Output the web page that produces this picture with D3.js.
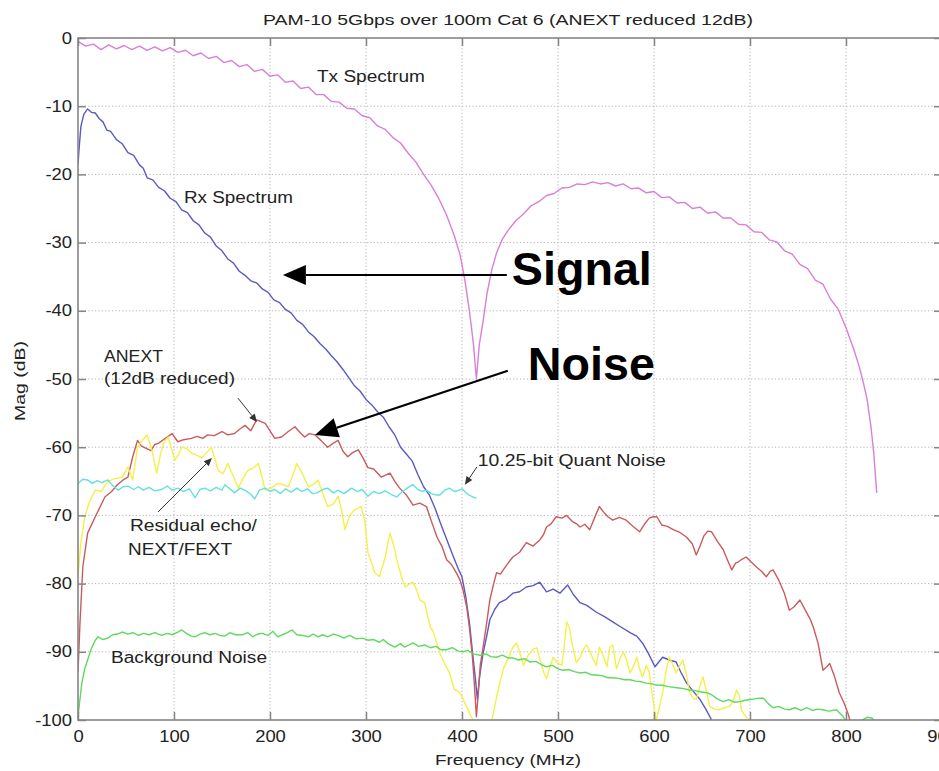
<!DOCTYPE html>
<html><head><meta charset="utf-8">
<script src="https://cdn.jsdelivr.net/npm/d3@7"></script>
<style>body{margin:0;background:#fff}svg{display:block;font-family:"Liberation Sans",Arial,sans-serif}</style>
</head><body><svg id="c" width="939" height="771"></svg>
<script>
// ---------- data ----------
const xTicks = [0,100,200,300,400,500,600,700,800,900];
const yTicks = [0,-10,-20,-30,-40,-50,-60,-70,-80,-90,-100];

const txFreq = [0,8,16,24,32,40,48,56,64,72,80,88,96,104,112,120,128,136,144,152,160,168,176,184,192,200,208,216,224,232,240,248,256,264,272,280,288,296,304,312,320,328,336,344,352,360,368,376,384,392,398,403,408,412,415,418,422,426,431,436,442,448,456,464,472,480,488,496,504,512,520,528,536,544,552,560,568,576,584,592,600,608,616,624,632,640,648,656,664,672,680,688,696,704,712,720,728,736,744,752,760,768,776,784,792,800,808,814,818,822,826,829,832];
const txMag = [-0.5,-1.2,-0.9,-1.7,-1.0,-1.6,-1.1,-1.7,-1.2,-1.8,-1.3,-1.9,-1.4,-2.1,-1.8,-2.6,-2.2,-3.0,-2.7,-3.6,-3.3,-4.2,-3.9,-4.9,-4.6,-5.6,-5.4,-6.5,-6.3,-7.4,-7.2,-8.3,-8.3,-9.3,-9.4,-10.3,-10.4,-11.4,-11.7,-12.9,-13.4,-14.6,-15.4,-16.9,-18.2,-20.0,-21.6,-23.6,-26.0,-29.0,-31.8,-35.5,-40.3,-45,-50,-45,-41.5,-37.5,-34,-31.5,-29.5,-28.2,-26.8,-25.8,-24.6,-24.0,-23.1,-22.8,-22.0,-21.9,-21.4,-21.5,-21.1,-21.4,-21.2,-21.7,-21.4,-22.1,-22.0,-22.7,-22.5,-23.4,-23.3,-24.2,-24.1,-25.0,-24.8,-25.7,-25.5,-26.4,-26.4,-27.3,-27.4,-28.4,-28.5,-29.6,-29.9,-31.2,-31.7,-33.2,-33.8,-35.5,-36.1,-38.3,-39.8,-42.5,-45.6,-48.3,-50.5,-53,-57,-61,-66.7];

const rxFreq = [0,1,3,6,10,14,18,22,26,30,34,40,46,52,58,64,68,72,78,84,90,96,102,108,114,120,126,132,138,144,150,156,162,168,174,180,186,192,198,204,210,216,222,228,234,240,246,252,258,264,270,276,282,288,294,300,306,312,318,324,330,336,342,348,354,360,366,372,378,384,390,396,400,404,408,411,414,416,418,420,422,426,429,434,439,446,453,460,467,474,481,488,495,502,510,516,523,530,540,548,557,566,575,582,588,594,601,609,616,623,628,634,641,648,654,660,664];
const rxMag = [-18.6,-16.5,-13,-11.2,-10.4,-10.9,-11.0,-11.8,-12.3,-13.5,-13.7,-14.9,-15.5,-16.8,-17.2,-18.6,-19.1,-20.5,-20.8,-21.9,-22.4,-23.5,-24.0,-25.2,-25.6,-26.8,-27.4,-28.6,-29.2,-30.5,-31.2,-32.4,-33.0,-34.2,-34.8,-35.6,-35.9,-36.8,-37.3,-38.4,-38.8,-39.8,-40.3,-41.4,-42.0,-43.1,-43.8,-44.8,-45.6,-46.6,-47.5,-48.6,-49.8,-51.0,-51.8,-53.0,-53.8,-54.8,-55.6,-57.0,-58.2,-60.0,-61.0,-62.0,-64.0,-65.8,-67.0,-69.0,-71.3,-73.5,-75.7,-77.8,-79.0,-82.0,-86.0,-90.2,-94,-97,-94,-92,-90.2,-87.5,-85.3,-83.8,-82.8,-82.3,-81.4,-81.2,-80.5,-80.3,-79.8,-81.2,-80.8,-81.4,-80.2,-81.6,-82.8,-83.2,-84.2,-84.8,-85.6,-86.4,-87.2,-87.7,-88.7,-90.2,-92.2,-90.8,-91.2,-91.5,-93.0,-94.6,-95.8,-97.0,-98.4,-100.0,-101];

const anextFreq = [0,2,5,10,18,28,35,41,47,52,57,62,66,70,76,80,84,90,95,98,104,110,118,124,130,135,142,150,156,163,168,174,180,186,190,195,200,205,212,219,226,231,236,241,247,253,260,266,271,276,281,286,292,297,302,308,316,322,325,330,335,342,349,356,363,368,374,379,384,389,394,398,401,405,408,411,413,415,417,419,422,426,429,433,436,440,443,448,453,460,467,474,481,485,488,493,498,504,509,515,519,523,528,533,538,543,548,552,557,564,571,578,585,590,595,599,603,608,614,620,627,634,640,644,648,652,656,660,666,672,677,681,685,688,692,696,701,707,712,717,721,724,730,736,741,746,752,758,763,766,771,776,780,783,788,793,798,802,806];
const anextMag = [-93,-86,-77.6,-72.6,-70.2,-67.3,-66.5,-65.5,-64.8,-64.4,-61.4,-59.0,-59.8,-60.1,-60.5,-59.6,-59.4,-58.8,-58.3,-58.0,-59.2,-58.9,-58.7,-58.4,-58.7,-58.2,-58.3,-57.7,-58.2,-58.0,-57.4,-56.8,-57.6,-56.0,-56.2,-56.5,-57.6,-58.7,-58.5,-57.7,-57.0,-57.8,-58.5,-58.0,-58.2,-59.0,-60.0,-59.4,-59.0,-60.6,-61.4,-60.8,-60.4,-61.6,-63.0,-63.2,-64.4,-64.0,-63.8,-65.0,-66.0,-67.0,-68.5,-68.2,-68.7,-70.8,-73.2,-74.5,-76.5,-77.2,-78.4,-79.5,-80.9,-83.5,-86.8,-91,-95,-99.5,-96,-92,-89.3,-85.5,-82.4,-80,-78.4,-78.6,-78.0,-77.0,-76.1,-75.4,-74.0,-74.5,-73.6,-72.8,-71.7,-71.2,-70.2,-70.4,-70.0,-70.9,-71.2,-71.7,-71.3,-72.1,-70.4,-68.7,-69.6,-70.2,-70.7,-70.3,-70.7,-71.6,-72.4,-71.3,-70.4,-70.2,-70.2,-71.4,-71.6,-72.1,-72.5,-73.2,-74.2,-75.8,-74.5,-73.0,-72.3,-72.4,-73.8,-75.0,-76.7,-78.0,-77.0,-76.8,-76.4,-76.1,-76.8,-77.6,-78.2,-79.0,-78.2,-78.0,-79.5,-81.5,-83.9,-83.4,-82.4,-84.0,-85.3,-86.4,-88.8,-92.7,-92.2,-91.7,-93.6,-96.0,-97.5,-99.0,-101];

const echoFreq = [0,3,7,12,18,24,31,38,46,52,57,62,67,72,77,82,86,89,94,98,101,105,108,113,119,124,129,134,139,146,151,156,161,167,172,177,183,188,191,195,201,208,214,219,224,228,234,240,245,250,255,260,266,271,275,278,283,288,295,299,302,306,309,314,320,325,329,333,338,341,346,349,353,356,361,367,370,377,381,387,392,398,403,408,413,420,429,432,437,443,448,453,457,461,464,469,474,478,481,485,488,492,495,499,504,507,509,512,514,519,523,527,530,534,537,540,543,547,551,554,557,561,564,568,571,575,579,582,585,588,592,595,597,600,602,605,609,613,616,620,623,627,630,634,637,641,644,648,651,655,658,663,668,674,679,683,686,689,691,694,696,700,703];
const echoMag = [-79,-74,-70.2,-68,-66.3,-66.5,-65.0,-64.6,-64.4,-62.9,-64.8,-60.0,-59.0,-58.2,-60.4,-63.8,-61.0,-59.4,-58.5,-60.5,-61.9,-61.0,-60.0,-60.2,-60.9,-61.2,-61.6,-60.8,-60.0,-63.4,-63.9,-62.4,-64.0,-66.0,-64.5,-63.4,-63.0,-62.4,-64.0,-66.3,-66.0,-65.3,-65.5,-65.8,-64.0,-62.4,-64.0,-65.8,-65.5,-64.8,-66.8,-68.7,-68.3,-67.2,-69.5,-72.1,-70.0,-69.2,-68.7,-71.0,-75.5,-77.0,-78.4,-79.0,-76.1,-72.6,-74.5,-77.0,-79.5,-80.5,-80.0,-79.8,-81.0,-82.4,-82.8,-86.4,-87.0,-90.2,-91.5,-93.1,-95.5,-96.0,-97.5,-99.0,-100.5,-102,-101,-99.5,-96.0,-92.5,-91,-89.3,-88.7,-90.5,-92.0,-90.5,-89.6,-89.4,-91.0,-93.0,-93.9,-92.0,-90.8,-91.6,-92.0,-88.5,-85.6,-86.5,-88.3,-91.6,-90.8,-89.5,-89.0,-90.2,-91.2,-92.0,-89.3,-90.5,-92.2,-89.3,-89.0,-92.5,-91.2,-90.0,-91.0,-93.1,-92.0,-90.8,-92.5,-93.7,-92.0,-93.0,-95.2,-98.0,-100.2,-98.5,-96.0,-92.5,-90.8,-92.0,-93.1,-92.0,-91.2,-93.5,-96.0,-96.8,-97.0,-95.0,-93.7,-96.0,-98.0,-98.4,-98.5,-98.2,-98.0,-97.0,-95.6,-96.5,-98.5,-99.2,-99.5,-100.3,-101];

const quantFreq = [0,5,10,15,20,25,31,36,42,47,52,58,63,68,74,80,87,93,98,104,110,116,122,127,132,138,144,150,153,158,163,169,175,180,184,189,195,200,205,211,216,222,228,233,239,244,249,255,260,266,271,277,285,291,296,302,308,314,320,326,332,338,344,349,354,359,363,368,373,377,382,387,392,397,400,405,410,415];
const quantMag = [-65.3,-64.7,-64.8,-65.3,-64.9,-65.2,-64.8,-65.6,-66.3,-65.8,-65.7,-66.2,-65.8,-66.3,-65.9,-66.4,-66.2,-65.7,-66.3,-66.0,-66.5,-66.1,-67.4,-66.2,-66.0,-66.4,-65.9,-66.3,-65.5,-66.1,-66.7,-66.0,-66.4,-66.9,-67.6,-66.3,-66.0,-66.5,-66.2,-66.8,-66.1,-66.6,-66.0,-66.5,-66.1,-66.8,-66.7,-66.2,-66.0,-66.7,-66.3,-66.8,-66.0,-66.5,-66.2,-67.2,-66.5,-66.8,-66.4,-66.9,-67.3,-66.5,-65.9,-65.5,-66.2,-66.5,-66.3,-66.8,-67.0,-67.0,-66.3,-66.0,-66.5,-66.3,-66.1,-66.8,-67.2,-67.5];

const bgFreq = [0,2,4,7,10,14,18,21,26,31,36,41,46,52,57,63,68,74,80,87,93,98,104,108,113,118,122,127,132,137,143,148,153,158,164,171,177,182,187,192,198,203,208,213,218,223,228,234,240,245,250,255,260,266,271,277,283,290,296,302,308,314,318,323,330,336,340,345,349,355,361,367,373,378,384,390,396,401,406,412,419,425,430,436,442,448,453,459,465,471,477,483,488,494,500,505,511,517,523,529,535,540,546,552,557,563,569,575,581,587,592,598,603,609,615,620,626,631,637,643,649,655,660,666,672,678,684,690,695,700,705,710,714,719,724,730,736,741,747,753,759,765,770,776,782,790,797,800,806,812,818,822,827,830,834];
const bgMag = [-99.5,-97,-94.6,-92.5,-91.2,-89.5,-88.3,-87.8,-88.2,-88.0,-87.5,-87.4,-87.1,-87.4,-87.2,-87.6,-87.3,-87.5,-87.2,-87.6,-87.3,-87.5,-87.1,-86.8,-87.3,-87.7,-87.8,-87.4,-87.2,-87.5,-87.3,-87.6,-87.7,-87.2,-87.5,-87.5,-87.2,-87.8,-87.4,-87.3,-87.6,-87.0,-87.8,-87.5,-87.2,-86.8,-87.5,-87.6,-87.8,-87.4,-87.8,-87.5,-87.8,-87.4,-87.6,-88.0,-87.6,-88.1,-88.0,-88.3,-88.2,-88.6,-88.2,-88.8,-89.3,-88.8,-89.3,-89.0,-88.7,-89.2,-89.0,-89.4,-89.2,-89.7,-89.7,-89.4,-89.9,-90.0,-89.8,-90.3,-90.5,-90.3,-90.7,-90.8,-90.5,-90.9,-90.9,-91.2,-91.0,-91.5,-91.4,-91.9,-92.2,-92.0,-92.5,-92.7,-92.6,-92.9,-93.1,-93.0,-93.4,-93.4,-93.5,-93.8,-93.8,-93.9,-94.1,-94.1,-94.3,-94.4,-94.6,-94.7,-94.9,-94.9,-95.1,-95.2,-95.3,-95.4,-95.6,-95.7,-95.9,-96.0,-96.3,-96.9,-97.3,-97.0,-97.4,-97.3,-97.1,-97.0,-96.9,-96.8,-96.8,-97.6,-98.2,-98.0,-98.4,-98.5,-98.2,-98.6,-98.2,-98.6,-98.4,-98.5,-98.7,-98.5,-99.5,-100.2,-100.6,-100.4,-99.9,-99.6,-99.7,-100.2,-100.8];

const seriesNames = ["Tx Spectrum","Rx Spectrum","ANEXT","Residual echo","Quant Noise","Background Noise"];
const seriesColors = ["#d87fd8","#5a5ac2","#c95b5e","#f4f04a","#62e0e2","#5fd95f"];

const title = "PAM-10 5Gbps over 100m Cat 6 (ANEXT reduced 12dB)";
const xLabel = "Frequency (MHz)";
const yLabel = "Mag (dB)";

// ---------- layout ----------
const svg = d3.select("#c");
const x = d3.scaleLinear().domain([0,900]).range([78,942]);
const y = d3.scaleLinear().domain([-100,0]).range([720,38]);
const axisGray = "#858585";

svg.append("rect").attr("width",939).attr("height",771).attr("fill","#fff");

// grid
const grid = svg.append("g").attr("stroke","#b4b4b4").attr("stroke-width",1).attr("stroke-dasharray","1.2,2.2");
grid.selectAll("line.v").data(xTicks.filter(t=>t>0&&t<900)).enter().append("line")
  .attr("x1",d=>x(d)).attr("x2",d=>x(d)).attr("y1",y(0)).attr("y2",y(-100));
grid.selectAll("line.h").data(yTicks.filter(t=>t<0&&t>-100)).enter().append("line")
  .attr("y1",d=>y(d)).attr("y2",d=>y(d)).attr("x1",x(0)).attr("x2",x(900));

// clip
svg.append("defs").append("clipPath").attr("id","plot").append("rect")
  .attr("x",x(0)).attr("y",y(0)).attr("width",x(900)-x(0)).attr("height",y(-100)-y(0));

const line = d3.line().x(d=>x(d[0])).y(d=>y(d[1]));
const zip = (f,m)=>f.map((v,i)=>[v,m[i]]);
const allSeries = [zip(txFreq,txMag),zip(rxFreq,rxMag),zip(anextFreq,anextMag),zip(echoFreq,echoMag),zip(quantFreq,quantMag),zip(bgFreq,bgMag)];
const lg = svg.append("g").attr("clip-path","url(#plot)");
lg.selectAll("path").data(allSeries).enter().append("path")
  .attr("d",line).attr("fill","none")
  .attr("stroke",(d,i)=>seriesColors[i]).attr("stroke-width",1.4).attr("stroke-linejoin","round");

// axes
const stretch = (sel,k)=>sel.each(function(){const w=this.getComputedTextLength();this.setAttribute("textLength",w*k);this.setAttribute("lengthAdjust","spacingAndGlyphs");});
const fmt = d=>String(d);
const gx = svg.append("g").attr("transform",`translate(0,${y(-100)})`)
  .call(d3.axisBottom(x).tickValues(xTicks).tickFormat(fmt).tickSizeInner(-8).tickSizeOuter(0).tickPadding(11));
const gxt = svg.append("g").attr("transform",`translate(0,${y(0)})`)
  .call(d3.axisTop(x).tickValues(xTicks).tickFormat("").tickSizeInner(-8).tickSizeOuter(0));
const gy = svg.append("g").attr("transform",`translate(${x(0)},0)`)
  .call(d3.axisLeft(y).tickValues(yTicks).tickFormat(fmt).tickSizeInner(-8).tickSizeOuter(0).tickPadding(6));
const gyr = svg.append("g").attr("transform",`translate(${x(900)},0)`)
  .call(d3.axisRight(y).tickValues(yTicks).tickFormat("").tickSizeInner(-8).tickSizeOuter(0));
[gx,gxt,gy,gyr].forEach(g=>{g.select(".domain").remove();g.selectAll("line").attr("stroke",axisGray).attr("stroke-width",1.5);});
gx.selectAll("text").attr("font-size",16).attr("fill","#222").attr("font-family","Liberation Sans, Arial").attr("dy","0.71em");
gy.selectAll("text").attr("font-size",16).attr("fill","#222").attr("font-family","Liberation Sans, Arial");
stretch(gx.selectAll("text"),1.15);
stretch(gy.selectAll("text"),1.15);

svg.append("rect").attr("x",x(0)).attr("y",y(0)).attr("width",x(900)-x(0)).attr("height",y(-100)-y(0))
  .attr("fill","none").attr("stroke",axisGray).attr("stroke-width",1.6);

// texts
const T = (txt,fx,fy,size,len,opts={})=>{
  const t = svg.append("text").attr("x",x(fx)).attr("y",y(fy)).attr("font-size",size)
    .attr("fill",opts.fill||"#222").attr("font-weight",opts.bold?"bold":"normal")
    .attr("text-anchor",opts.anchor||"start").text(txt);
  if(len) t.attr("textLength",len).attr("lengthAdjust","spacingAndGlyphs");
  return t;
};
svg.append("text").attr("x",508).attr("y",25).attr("text-anchor","middle").attr("font-size",15.5)
  .attr("fill","#222").attr("textLength",490).attr("lengthAdjust","spacingAndGlyphs").text(title);
svg.append("text").attr("x",508).attr("y",765).attr("text-anchor","middle").attr("font-size",15.5)
  .attr("fill","#222").attr("textLength",146).attr("lengthAdjust","spacingAndGlyphs").text(xLabel);
svg.append("text").attr("transform","translate(25,381) rotate(-90)").attr("text-anchor","middle").attr("font-size",15.5)
  .attr("fill","#222").attr("textLength",80).attr("lengthAdjust","spacingAndGlyphs").text(yLabel);

T("Tx Spectrum",248.9,-6.45,16,108);
T("Rx Spectrum",110.4,-24.19,16,109);
T("ANEXT",27.1,-47.5,16,59);
T("(12dB reduced)",27.1,-50.7,16,131);
T("10.25-bit Quant Noise",416.5,-62.76,16,188);
T("Residual echo/",54.1,-72.3,16,127);
T("NEXT/FEXT",52.1,-75.8,16,104);
T("Background Noise",34.4,-91.6,16,156);
T("Signal",451.9,-36.2,47,140,{bold:true,fill:"#000"});
T("Noise",468.6,-50.1,47,127,{bold:true,fill:"#000"});

// arrows (start f,dB -> tip f,dB)
const arrows = [
  {s:[446.7,-34.75],t:[213.4,-34.75],w:2.2,hl:23,hw:10,c:"#000"},
  {s:[447.7,-48.8],t:[246.8,-58.2],w:2.2,hl:23,hw:10,c:"#000"},
  {s:[166.6,-52.8],t:[186.4,-56.3],w:1,hl:8,hw:3.5,c:"#333"},
  {s:[83.3,-69.5],t:[139.5,-61.6],w:1,hl:8,hw:3.5,c:"#333"},
  {s:[415.5,-62.9],t:[403,-65.5],w:1,hl:8,hw:3.5,c:"#333"}
];
arrows.forEach(a=>{
  const x1=x(a.s[0]),y1=y(a.s[1]),x2=x(a.t[0]),y2=y(a.t[1]);
  const dx=x2-x1,dy=y2-y1,L=Math.hypot(dx,dy),ux=dx/L,uy=dy/L;
  const bx=x2-ux*a.hl,by=y2-uy*a.hl;
  svg.append("line").attr("x1",x1).attr("y1",y1).attr("x2",bx).attr("y2",by).attr("stroke",a.c).attr("stroke-width",a.w);
  svg.append("path").attr("d",`M${x2},${y2}L${bx-uy*a.hw},${by+ux*a.hw}L${bx+uy*a.hw},${by-ux*a.hw}Z`).attr("fill",a.c);
});
</script></body></html>
